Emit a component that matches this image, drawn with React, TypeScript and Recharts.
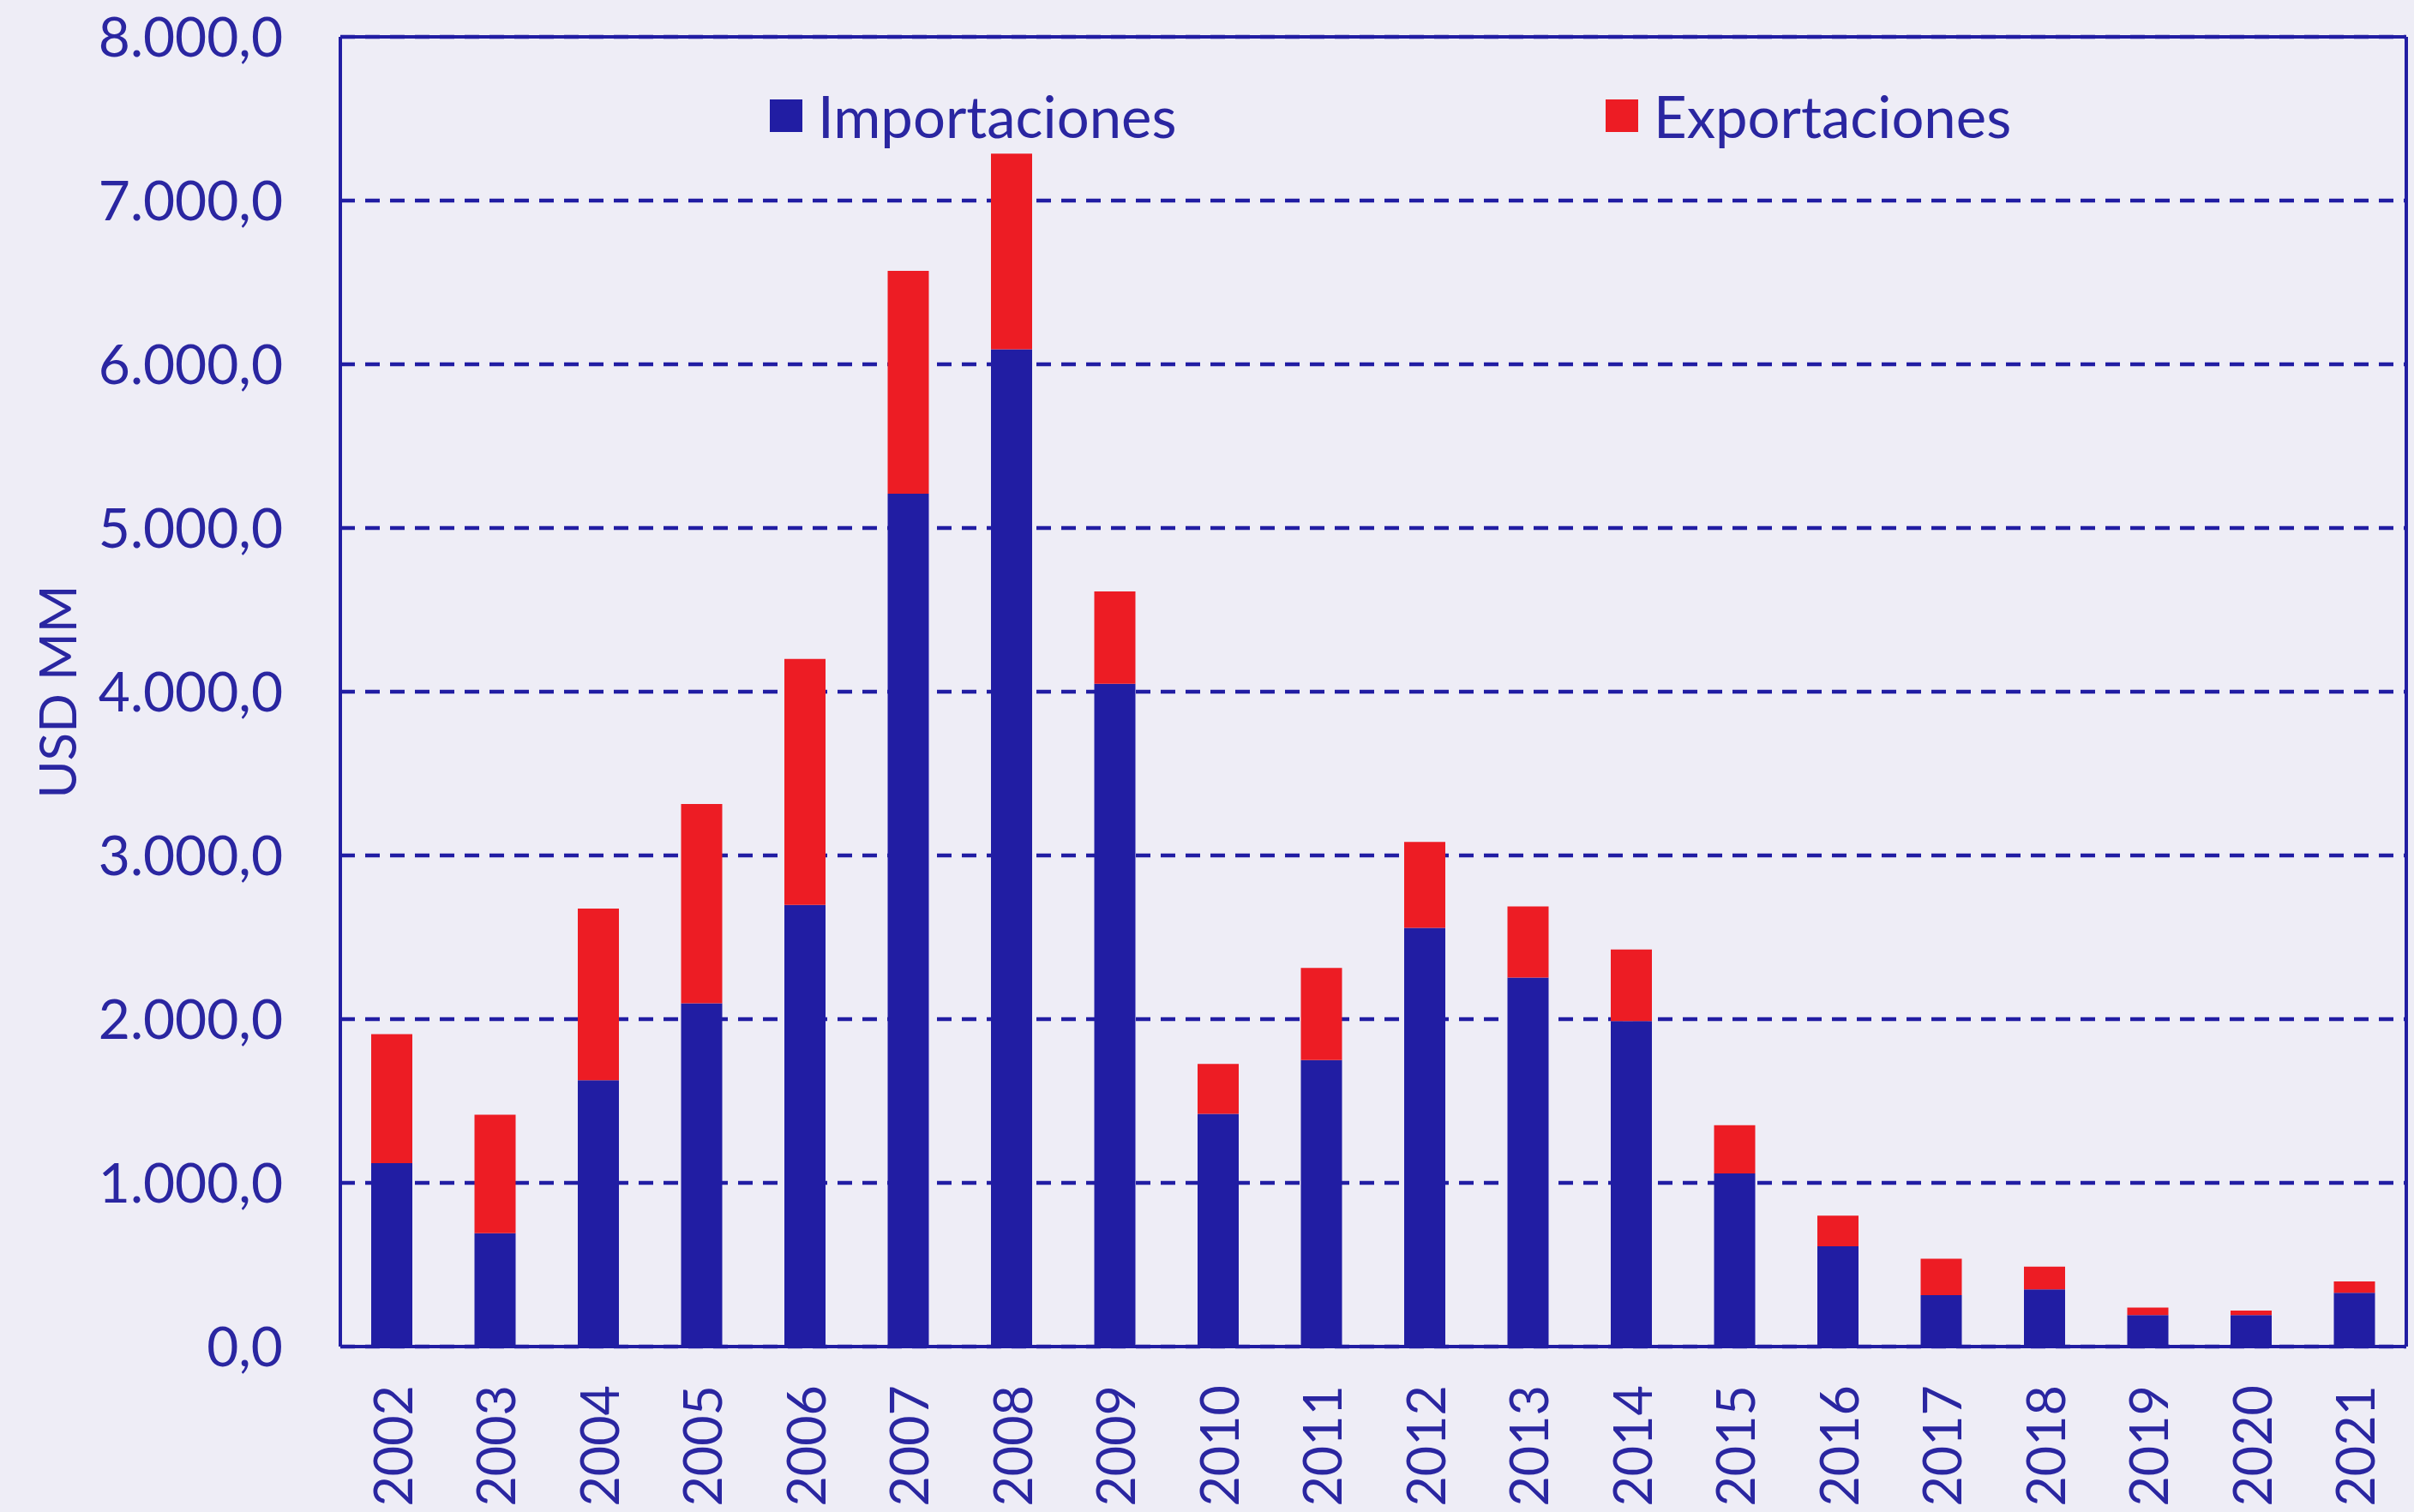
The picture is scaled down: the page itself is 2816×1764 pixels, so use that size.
import { BarChart, Bar, XAxis, YAxis, CartesianGrid, Legend } from "recharts";

const years = [
  "2002", "2003", "2004", "2005", "2006", "2007", "2008", "2009", "2010", "2011",
  "2012", "2013", "2014", "2015", "2016", "2017", "2018", "2019", "2020", "2021",
];
const importaciones = [
  1120, 693, 1627, 2097, 2697, 5210, 6092, 4048, 1422, 1750,
  2557, 2254, 1988, 1058, 612, 314, 350, 192, 192, 328,
];
const exportaciones = [
  788, 723, 1048, 1217, 1503, 1361, 1195, 564, 305, 563,
  525, 434, 438, 294, 188, 222, 138, 46, 28, 70,
];
const yTicks = [0, 1000, 2000, 3000, 4000, 5000, 6000, 7000, 8000];

const NAVY = "#211DA3";
const RED = "#ED1C24";
const TEXT = "#2A26A1";
const BG = "#EEEDF6";
const FONT = "Lato, 'Open Sans', sans-serif";

const data = years.map((year, i) => ({
  year,
  imp: importaciones[i],
  exp: exportaciones[i],
}));

// 8000 -> "8.000,0"
const fmt = (v: number) => {
  const int = Math.round(v).toString().replace(/\B(?=(\d{3})+(?!\d))/g, ".");
  return `${int},0`;
};

const YearTick = (props: any) => {
  const { x, y, payload } = props;
  return (
    <text
      x={x}
      y={y}
      transform={`rotate(-90, ${x}, ${y})`}
      textAnchor="end"
      dominantBaseline="central"
      fill={TEXT}
      fontSize={61}
      fontFamily={FONT}
    >
      {payload.value}
    </text>
  );
};

const YLabel = () => (
  <text
    x={66}
    y={807}
    transform="rotate(-90, 66, 807)"
    textAnchor="middle"
    dominantBaseline="central"
    fill={TEXT}
    fontSize={60}
    fontFamily={FONT}
  >
    USD MM
  </text>
);

const legendItems = [
  { label: "Importaciones", color: NAVY, left: 898 },
  { label: "Exportaciones", color: RED, left: 1873 },
];

const LegendContent = () => (
  <div style={{ position: "relative", width: 2816, height: 0 }}>
    {legendItems.map((item) => (
      <div
        key={item.label}
        style={{
          position: "absolute",
          left: item.left,
          top: 95,
          height: 80,
          display: "flex",
          alignItems: "center",
          fontFamily: FONT,
          fontSize: 67,
          color: TEXT,
          whiteSpace: "nowrap",
        }}
      >
        <span style={{ width: 38, height: 38, background: item.color, marginRight: 18, display: "inline-block" }} />
        {item.label}
      </div>
    ))}
  </div>
);

export default function App() {
  return (
    <div style={{ position: "absolute", left: 0, top: 0, width: 2816, height: 1764, background: BG }}>
      <BarChart
        width={2816}
        height={1764}
        data={data}
        margin={{ top: 42, right: 8, left: 0, bottom: 0 }}
        barSize={48}
      >
        <CartesianGrid
          vertical={false}
          stroke={NAVY}
          strokeWidth={4.5}
          strokeDasharray="17 12"
        />
        <XAxis
          dataKey="year"
          height={193}
          axisLine={{ stroke: NAVY, strokeWidth: 4 }}
          tickLine={false}
          tickSize={6}
          tickMargin={39}
          interval={0}
          tick={<YearTick />}
        />
        <XAxis
          xAxisId="top"
          dataKey="year"
          orientation="top"
          height={1}
          tick={false}
          tickLine={false}
          axisLine={{ stroke: NAVY, strokeWidth: 4 }}
        />
        <YAxis
          width={397}
          domain={[0, 8000]}
          ticks={yTicks}
          interval={0}
          tickFormatter={fmt}
          axisLine={{ stroke: NAVY, strokeWidth: 4 }}
          tickLine={false}
          tickSize={6}
          tickMargin={61}
          tick={{ fill: TEXT, fontSize: 64, fontFamily: FONT }}
          label={{ content: <YLabel /> }}
        />
        <YAxis
          yAxisId="right"
          orientation="right"
          width={1}
          domain={[0, 8000]}
          tick={false}
          tickLine={false}
          axisLine={{ stroke: NAVY, strokeWidth: 4 }}
        />
        <Legend
          verticalAlign="top"
          content={<LegendContent />}
          wrapperStyle={{ position: "absolute", top: 0, left: 0, width: 2816, height: 0 }}
        />
        <Bar dataKey="imp" name="Importaciones" stackId="a" fill={NAVY} isAnimationActive={false} />
        <Bar dataKey="exp" name="Exportaciones" stackId="a" fill={RED} isAnimationActive={false} />
      </BarChart>
    </div>
  );
}
